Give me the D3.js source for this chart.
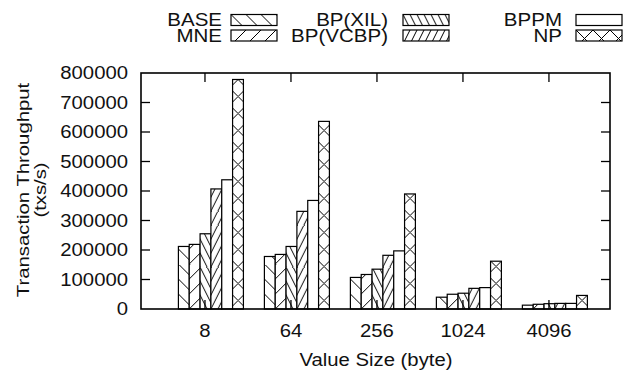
<!DOCTYPE html>
<html lang="en">
<head>
	<meta charset="UTF-8">
	<title>Transaction Throughput vs Value Size</title>
	<script src="https://d3js.org/d3.v7.min.js"></script>
	<style>
		body, html {
			margin: 0;
			padding: 0;
			background: #fff;
			overflow: hidden;
		}
		svg {
			display: block;
			font-family: "Liberation Sans", Arial, sans-serif;
		}
	</style>
</head>
<body>
<div id="chart"></div>
	<script>
		// data
		const categories = ["8", "64", "256", "1024", "4096"];
		const seriesNames = ["BASE", "MNE", "BP(XIL)", "BP(VCBP)", "BPPM", "NP"];
		const baseVals = [212000, 178000, 107000, 40000, 13000];
		const mneVals  = [219000, 185000, 117000, 50000, 16000];
		const xilVals  = [255000, 212000, 135000, 53500, 18000];
		const vcbpVals = [407000, 331000, 182000, 70000, 19000];
		const bppmVals = [438000, 368000, 197000, 72500, 19000];
		const npVals   = [778000, 636000, 390000, 162000, 46000];
		const yTicks = [0, 100000, 200000, 300000, 400000, 500000, 600000, 700000, 800000];

		const seriesVals = [baseVals, mneVals, xilVals, vcbpVals, bppmVals, npVals];
		// fill pattern kind for each series
		const patternKinds = ["back", "fwd", "steepBack", "steepFwd", "none", "cross"];

		const width = 630, height = 373;
		const plotLeft = 141, plotRight = 610, plotTop = 73, plotBottom = 309;

		const svg = d3.select("#chart").append("svg")
			.attr("width", width)
			.attr("height", height);
		const defs = svg.append("defs");

		const x = d3.scaleLinear().domain([-0.744, 4.71]).range([plotLeft, plotRight]);
		const y = d3.scaleLinear().domain([0, 800000]).range([plotBottom, plotTop]);
		// position of each bar inside its group, in x units
		const inner = d3.scaleBand().domain(seriesNames).range([-0.309, 0.447]);

		// pattern tiles, drawn like gnuplot's fill patterns
		function makePattern(id, kind, px, py) {
			const tile = {
				back: [15, 15], fwd: [15, 15],
				steepBack: [7, 14], steepFwd: [7, 14],
				cross: [17, 17], none: [10, 10]
			}[kind];
			const w = tile[0], h = tile[1];
			const p = defs.append("pattern")
				.attr("id", id)
				.attr("patternUnits", "userSpaceOnUse")
				.attr("x", px).attr("y", py)
				.attr("width", w).attr("height", h);
			p.append("rect").attr("width", w).attr("height", h).attr("fill", "#fff");
			let d = "";
			const backs = kind === "back" || kind === "steepBack" || kind === "cross";
			const fwds = kind === "fwd" || kind === "steepFwd" || kind === "cross";
			for (let k = -1; k <= 1; k++) {
				if (backs) d += `M${k * w},0L${k * w + w},${h}`;
				if (fwds) d += `M${k * w},${h}L${k * w + w},0`;
			}
			if (d) {
				p.append("path").attr("d", d)
					.attr("stroke", "#000").attr("stroke-width", 1).attr("fill", "none");
			}
			return `url(#${id})`;
		}

		// text helper: the source font is wider than it is tall
		function label(str, tx, ty, opts) {
			const o = Object.assign({ size: 17.5, sx: 1.16, rot: 0, anchor: "middle", dy: 0 }, opts);
			return svg.append("text")
				.attr("transform", `translate(${tx},${ty}) rotate(${o.rot}) scale(${o.sx},1)`)
				.attr("text-anchor", o.anchor)
				.attr("dy", o.dy)
				.attr("font-size", o.size)
				.attr("fill", "#111")
				.text(str);
		}

		// bars
		const bars = [];
		seriesNames.forEach((s, si) => {
			categories.forEach((c, gi) => {
				bars.push({ s: s, si: si, gi: gi, v: seriesVals[si][gi] });
			});
		});

		svg.append("g").selectAll("rect")
			.data(bars)
			.enter()
			.append("rect")
			.attr("x", d => x(d.gi + inner(d.s)))
			.attr("y", d => y(d.v))
			.attr("width", d => x(d.gi + inner(d.s) + inner.bandwidth()) - x(d.gi + inner(d.s)))
			.attr("height", d => y(0) - y(d.v))
			.attr("fill", d => makePattern(`p${d.si}_${d.gi}`, patternKinds[d.si],
				x(d.gi + inner(d.s)) + (d.si === 5 ? -3 : 0), y(0)))
			.attr("stroke", "#000")
			.attr("stroke-width", 1.2);

		// ticks (inward, mirrored on both sides)
		const tickG = svg.append("g").attr("stroke", "#000").attr("stroke-width", 1.3);
		yTicks.forEach(t => {
			if (t === 0 || t === 800000) return;
			tickG.append("line").attr("x1", plotLeft).attr("x2", plotLeft + 9).attr("y1", y(t)).attr("y2", y(t));
			tickG.append("line").attr("x1", plotRight).attr("x2", plotRight - 9).attr("y1", y(t)).attr("y2", y(t));
		});
		categories.forEach((c, i) => {
			tickG.append("line").attr("x1", x(i)).attr("x2", x(i)).attr("y1", plotBottom).attr("y2", plotBottom - 9);
			tickG.append("line").attr("x1", x(i)).attr("x2", x(i)).attr("y1", plotTop).attr("y2", plotTop + 9);
		});

		// frame
		svg.append("rect")
			.attr("x", plotLeft).attr("y", plotTop)
			.attr("width", plotRight - plotLeft).attr("height", plotBottom - plotTop)
			.attr("fill", "none").attr("stroke", "#000").attr("stroke-width", 1.6);

		// tick labels
		yTicks.forEach(t => label(d3.format("d")(t), 128, y(t), { anchor: "end", dy: "0.36em" }));
		categories.forEach((c, i) => label(c, x(i), 337));

		// axis titles
		label("Value Size (byte)", 376, 366);
		label("Transaction Throughput", 29, 190, { rot: -90, size: 16, sx: 1.27 });
		label("(txs/s)", 46, 190, { rot: -90, size: 16, sx: 1.27 });

		// legend: two rows, three columns
		const boxStarts = [231, 403, 576];
		const textEnds = [222, 388, 562];
		const rowMid = [20, 35.5];
		seriesNames.forEach((s, i) => {
			const col = Math.floor(i / 2), row = i % 2;
			label(s, textEnds[col], rowMid[row], { anchor: "end", dy: "0.36em", size: 18, sx: 1.14 });
			const bx = boxStarts[col], by = rowMid[row] - 5.5;
			svg.append("rect")
				.attr("x", bx).attr("y", by)
				.attr("width", 46).attr("height", 11)
				.attr("fill", makePattern(`leg${i}`, patternKinds[i], bx, by))
				.attr("stroke", "#000").attr("stroke-width", 1.2);
		});
	</script>
</body>
</html>
